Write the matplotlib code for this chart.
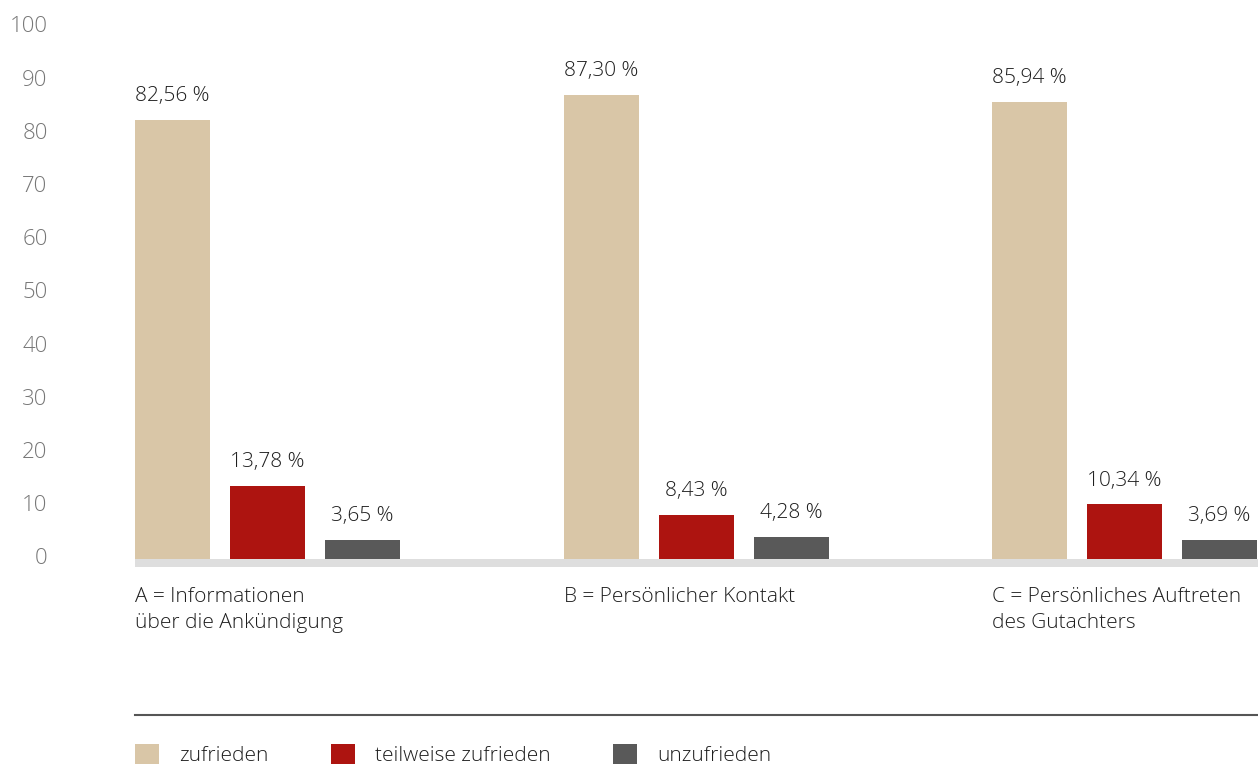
import matplotlib
matplotlib.use("Agg")
import matplotlib.pyplot as plt
import matplotlib.transforms as mtransforms
import numpy as np
from matplotlib.patches import Patch
from matplotlib.lines import Line2D

# data
categories = ["A = Informationen\nüber die Ankündigung",
              "B = Persönlicher Kontakt",
              "C = Persönliches Auftreten\ndes Gutachters"]
series_names = ["zufrieden", "teilweise zufrieden", "unzufrieden"]
zufrieden = [82.56, 87.30, 85.94]
teilweise = [13.78, 8.43, 10.34]
unzufrieden = [3.65, 4.28, 3.69]
yticks = [0, 10, 20, 30, 40, 50, 60, 70, 80, 90, 100]

colors = ["#D9C6A7", "#AD1410", "#595959"]
plt.rcParams['font.family'] = ['Open Sans', 'DejaVu Sans']
plt.rcParams['font.weight'] = 'light'
W, H = 1258, 767
fig = plt.figure(figsize=(W/100, H/100), dpi=100)

# axes placed in pixel terms: y=0 at px 559, y=100 at px 27
ymin = -1.5
px_per = 5.32
ax_bottom_px = 559.4 + (-ymin)*px_per
ax_top_px = 559.4 - 100*px_per
ax = fig.add_axes([135/W, (H-ax_bottom_px)/H, 1-135/W, (ax_bottom_px-ax_top_px)/H])

group_px = 428.5
bw = 75/group_px
step = 95/group_px
x = np.arange(len(categories))
all_series = [zufrieden, teilweise, unzufrieden]
txt = "#1E1E1E"
for i, vals in enumerate(all_series):
    xs = x + (i-1)*step
    bars = ax.bar(xs, vals, width=bw, color=colors[i], zorder=3)
    for b, v in zip(bars, vals):
        ax.annotate(f"{v:.2f} %".replace(".", ","), (b.get_x()+b.get_width()/2, v),
                    xytext=(0, 10), textcoords="offset points", ha="center", va="bottom",
                    fontsize=15, color=txt)

ax.axhspan(ymin, 0, color="#DEDEDE", lw=0, zorder=2)
ax.set_ylim(ymin, 100)
ax.set_xlim(-0.309, 2.3115)

ax.set_yticks(yticks)
ax.set_yticklabels([str(t) for t in yticks], fontsize=16, color="#777777")
ax.tick_params(axis="y", length=0, pad=63)
# tick labels sit a bit above their gridline in the original
up = mtransforms.ScaledTranslation(0, 3/100, fig.dpi_scale_trans)
for lab in ax.get_yticklabels():
    lab.set_transform(lab.get_transform() + up)

ax.set_xticks(x - step - bw/2)
ax.set_xticklabels(categories, ha="left", fontsize=15, color=txt, linespacing=1.38)
ax.tick_params(axis="x", length=0, pad=14)

for s in ax.spines.values():
    s.set_visible(False)

fig.add_artist(Line2D([135/W, 1], [(H-715)/H]*2, color="#555555", lw=1.5))

handles = [Patch(facecolor=c, edgecolor="none") for c in colors]
fig.legend(handles, series_names, loc="upper left", bbox_to_anchor=(135/W, (H-744)/H),
           ncol=3, frameon=False, fontsize=15, borderpad=0, borderaxespad=0,
           handlelength=1.15, handleheight=1.1, handletextpad=0.96, columnspacing=3.0,
           labelcolor=txt)

fig.savefig("out.png", dpi=100)
